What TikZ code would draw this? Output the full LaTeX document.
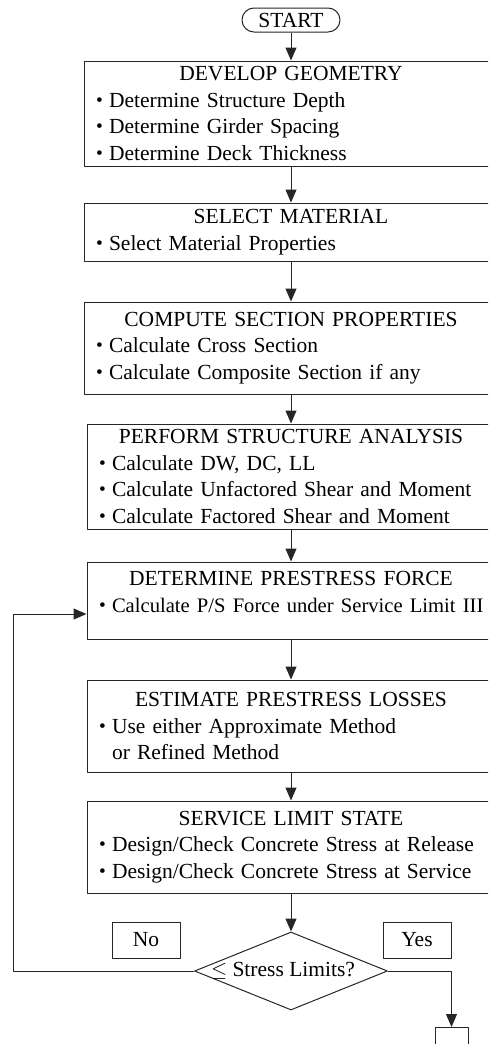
\documentclass[tikz,border=0pt]{standalone}
\usepackage{fontspec}
\setmainfont{Liberation Serif}
\usepackage{graphicx}
\usepackage{tikz}
\usetikzlibrary{arrows.meta,shapes.geometric}

\newcommand{\itm}{\makebox[13pt][l]{\raisebox{1pt}{\scalebox{0.9}{\textbullet}}}}
\newcommand{\boxtitle}[1]{\makebox[\hsize]{#1}}

\begin{document}
\begin{tikzpicture}[x=1pt,y=-1pt,>={Triangle[width=11pt,length=13pt]},line join=round,
  txt/.style={font=\fontsize{21.5}{26.5}\selectfont},
  stepbox/.style={txt,draw=black!85,line width=1pt,inner xsep=12pt,inner ysep=0pt,align=left},
  startbox/.style={txt,draw=black!85,line width=1pt,rounded corners=12pt,minimum width=98pt,minimum height=24pt,inner sep=0pt},
  tagbox/.style={txt,draw=black!85,line width=1pt,minimum width=68pt,minimum height=36pt,inner sep=0pt},
  decision/.style={diamond,draw=black!85,line width=1pt,minimum width=193pt,minimum height=78pt,inner sep=0pt},
  flow/.style={->,line width=1pt,black!85}]
  \clip (0,0) rectangle (488,1044);
  \node[startbox] (start) at (291,20) {START};
  \node[stepbox,text width=390pt,minimum height=105pt] (geom) at (291,113.5)
    {\boxtitle{DEVELOP GEOMETRY}\\\itm Determine Structure Depth\\\itm Determine Girder Spacing\\\itm Determine Deck Thickness};
  \node[stepbox,text width=390pt,minimum height=58pt] (mat) at (291,232)
    {\boxtitle{SELECT MATERIAL}\\\itm Select Material Properties};
  \node[stepbox,text width=390pt,minimum height=92pt] (sect) at (291,348)
    {\boxtitle{COMPUTE SECTION PROPERTIES}\\\itm Calculate Cross Section\\\itm Calculate Composite Section if any};
  \node[stepbox,text width=384pt,minimum height=105pt] (anal) at (291,476.5)
    {\boxtitle{PERFORM STRUCTURE ANALYSIS}\\\itm Calculate DW, DC, LL\\\itm Calculate Unfactored Shear and Moment\\\itm Calculate Factored Shear and Moment};
  \node[stepbox,text width=384pt,minimum height=77pt,text depth=44pt] (force) at (291,600.5)
    {\boxtitle{DETERMINE PRESTRESS FORCE}\\\mbox{\itm\fontsize{20.6}{26.5}\selectfont Calculate P/S Force under Service Limit III}};
  \node[stepbox,text width=384pt,minimum height=92pt] (loss) at (291,726)
    {\boxtitle{ESTIMATE PRESTRESS LOSSES}\\\itm Use either Approximate Method\\\hphantom{\itm}or Refined Method};
  \node[stepbox,text width=384pt,minimum height=92pt] (serv) at (291,847)
    {\boxtitle{SERVICE LIMIT STATE}\\\itm Design/Check Concrete Stress at Release\\\itm Design/Check Concrete Stress at Service};
  \node[decision] (check) at (291,971) {};
  \node[txt] (checktxt) at (283,971) {$\leq$ Stress Limits?};
  \node[tagbox] (no) at (146,940) {No};
  \node[tagbox] (yes) at (417,940) {Yes};
  \node[draw=black!85,line width=1pt,minimum width=33pt,minimum height=40pt,anchor=north] (next) at (451.5,1027) {};
  \coordinate (loopbot) at (13,971);
  \coordinate (looptop) at (13,614);
  \draw[flow] (start) -- (geom);
  \draw[flow] (geom) -- (mat);
  \draw[flow] (mat) -- (sect);
  \draw[flow] (sect) -- (anal);
  \draw[flow] (anal) -- (force);
  \draw[flow] (force) -- (loss);
  \draw[flow] (loss) -- (serv);
  \draw[flow] (serv) -- (check);
  \draw[flow] (check.west) -- (loopbot) -- (looptop) -- (looptop -| force.west);
  \draw[flow] (check.east) -| (next.north);
\end{tikzpicture}
\end{document}
